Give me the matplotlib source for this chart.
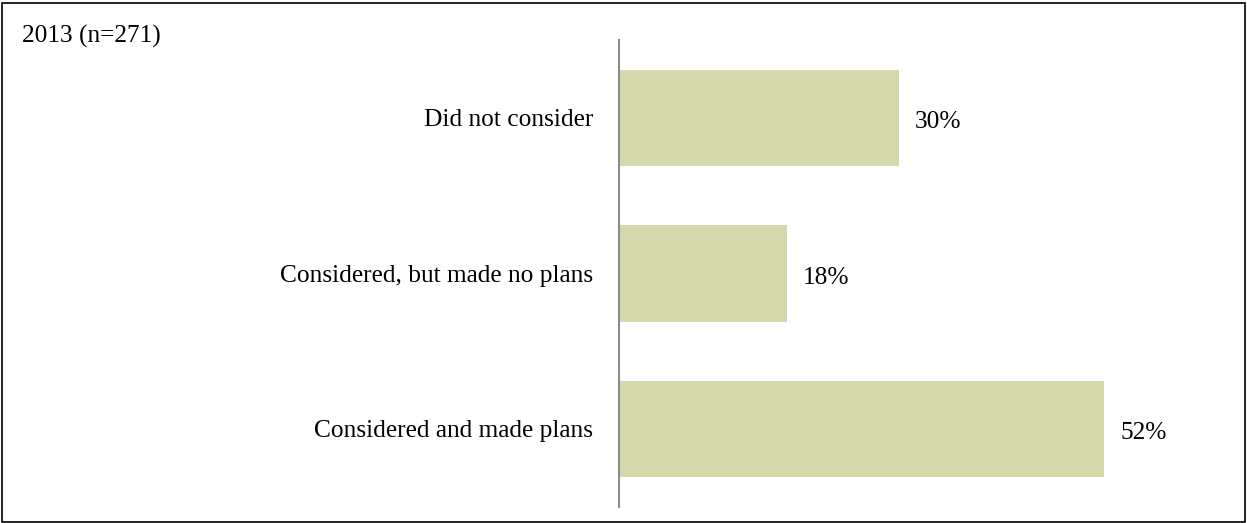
import matplotlib
matplotlib.use("Agg")
import matplotlib.pyplot as plt
from matplotlib.patches import Rectangle

categories = ["Did not consider", "Considered, but made no plans", "Considered and made plans"]
values = [30, 18, 52]
title_text = "2013 (n=271)"

W, H, DPI = 1247, 523, 100
FS = 18.3
plt.rcParams["font.family"] = ["Liberation Serif", "DejaVu Serif"]

fig = plt.figure(figsize=(W / DPI, H / DPI), dpi=DPI)
fig.patch.set_facecolor("white")

# outer frame
fig.add_artist(Rectangle((2 / W, 1.5 / H), 1242.5 / W, 519 / H, transform=fig.transFigure,
                         fill=False, edgecolor="black", linewidth=1.2))

ax_left, ax_right = 619, 1179
ax_top, ax_bottom = 40, 507
ax = fig.add_axes([ax_left / W, (H - ax_bottom) / H, (ax_right - ax_left) / W, (ax_bottom - ax_top) / H])

ypos = list(range(len(categories)))
ax.barh(ypos, values, height=0.617, color="#D4D8AC", edgecolor="none")
ax.set_xlim(0, 60)
ax.set_ylim(len(categories) - 0.5, -0.5)

for y, v in zip(ypos, values):
    ax.annotate(f"{v}%", xy=(v, y), xytext=(16, -10), textcoords="offset pixels",
                va="baseline", ha="left", fontsize=FS, color="black")

for y, name in zip(ypos, categories):
    ax.annotate(name, xy=(0, y), xytext=(-26, -8), textcoords="offset pixels",
                va="baseline", ha="right", fontsize=FS, color="black",
                annotation_clip=False)

ax.set_yticks([])
ax.set_xticks([])
for s in ["top", "right", "bottom"]:
    ax.spines[s].set_visible(False)
ax.spines["left"].set_color("#8C8C8C")
ax.spines["left"].set_linewidth(1.5)
ax.set_facecolor("none")

fig.text(22 / W, 1 - 43 / H, title_text, fontsize=FS, ha="left", va="baseline")

fig.savefig("out.png", dpi=DPI, facecolor="white")
